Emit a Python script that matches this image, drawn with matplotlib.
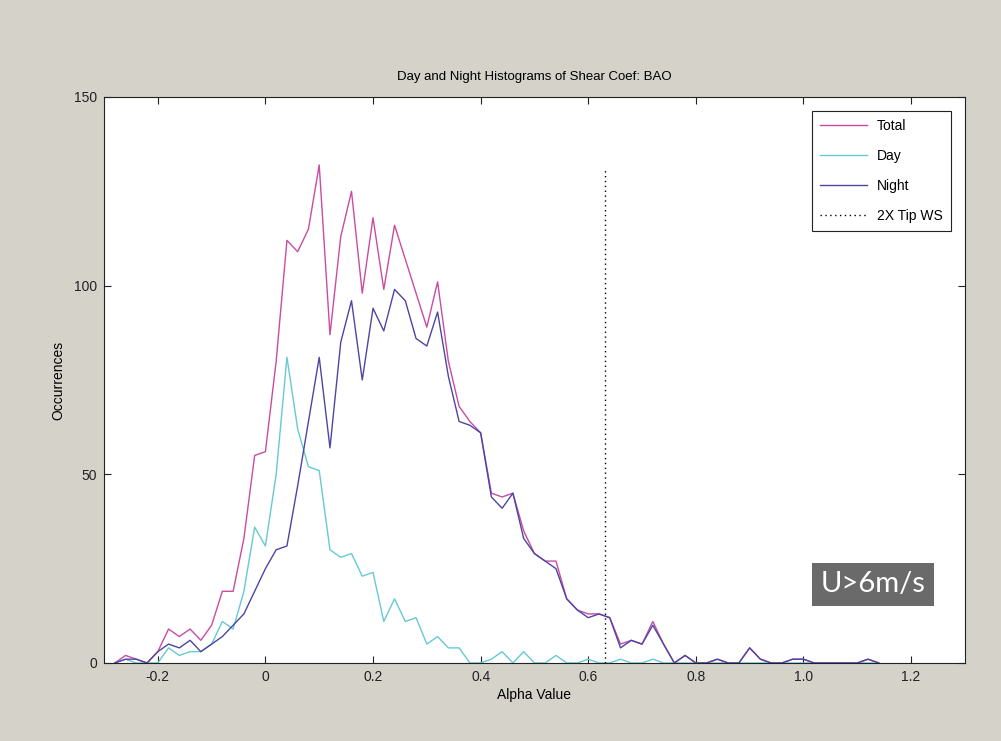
import numpy as np
import matplotlib
matplotlib.use("Agg")
import matplotlib.pyplot as plt

plt.rcParams['font.family'] = ['Liberation Sans', 'DejaVu Sans']

# bin centres (alpha value)
alpha = [-0.28, -0.26, -0.24, -0.22, -0.20, -0.18, -0.16, -0.14, -0.12, -0.10,
         -0.08, -0.06, -0.04, -0.02, 0.00, 0.02, 0.04, 0.06, 0.08, 0.10,
         0.12, 0.14, 0.16, 0.18, 0.20, 0.22, 0.24, 0.26, 0.28, 0.30,
         0.32, 0.34, 0.36, 0.38, 0.40, 0.42, 0.44, 0.46, 0.48, 0.50,
         0.52, 0.54, 0.56, 0.58, 0.60, 0.62, 0.64, 0.66, 0.68, 0.70,
         0.72, 0.74, 0.76, 0.78, 0.80, 0.82, 0.84, 0.86, 0.88, 0.90,
         0.92, 0.94, 0.96, 0.98, 1.00, 1.02, 1.04, 1.06, 1.08, 1.10,
         1.12, 1.14]

total = [0, 2, 1, 0, 3, 9, 7, 9, 6, 10,
         19, 19, 33, 55, 56, 80, 112, 109, 115, 132,
         87, 113, 125, 98, 118, 99, 116, 107, 98, 89,
         101, 80, 68, 64, 61, 45, 44, 45, 35, 29,
         27, 27, 17, 14, 13, 13, 12, 5, 6, 5,
         11, 5, 0, 2, 0, 0, 1, 0, 0, 4,
         1, 0, 0, 1, 1, 0, 0, 0, 0, 0,
         1, 0]

day = [0, 1, 0, 0, 0, 4, 2, 3, 3, 5,
       11, 9, 19, 36, 31, 50, 81, 62, 52, 51,
       30, 28, 29, 23, 24, 11, 17, 11, 12, 5,
       7, 4, 4, 0, 0, 1, 3, 0, 3, 0,
       0, 2, 0, 0, 1, 0, 0, 1, 0, 0,
       1, 0, 0, 0, 0, 0, 0, 0, 0, 0,
       0, 0, 0, 0, 0, 0, 0, 0, 0, 0,
       0, 0]

night = [0, 1, 1, 0, 3, 5, 4, 6, 3, 5,
         7, 10, 13, 19, 25, 30, 31, 47, 64, 81,
         57, 85, 96, 75, 94, 88, 99, 96, 86, 84,
         93, 76, 64, 63, 61, 44, 41, 45, 33, 29,
         27, 25, 17, 14, 12, 13, 12, 4, 6, 5,
         10, 5, 0, 2, 0, 0, 1, 0, 0, 4,
         1, 0, 0, 1, 1, 0, 0, 0, 0, 0,
         1, 0]

tip_ws = 0.631
tip_ws_height = 131

fig = plt.figure(figsize=(10.01, 7.41), dpi=100, facecolor='#d5d2ca')
ax = fig.add_axes([0.1039, 0.1053, 0.860, 0.7638])

ax.plot(alpha, total, color='#c94ca0', lw=1.0, label='Total')
ax.plot(alpha, day, color='#66c9d3', lw=1.0, label='Day')
ax.plot(alpha, night, color='#4d45a3', lw=1.0, label='Night')
ax.plot([tip_ws, tip_ws], [0, tip_ws_height], color='black', lw=1.0,
        linestyle=(0, (1, 2.5)), label='2X Tip WS')

ax.set_xlim(-0.3, 1.3)
ax.set_ylim(0, 150)
xt = [-0.2, 0, 0.2, 0.4, 0.6, 0.8, 1.0, 1.2]
ax.set_xticks(xt)
ax.set_xticklabels(['-0.2', '0', '0.2', '0.4', '0.6', '0.8', '1.0', '1.2'])
ax.set_yticks([0, 50, 100, 150])
ax.tick_params(direction='in', top=True, right=True, length=5,
               labelsize=10, pad=5, width=0.8, colors='#222222')
for s in ax.spines.values():
    s.set_linewidth(0.8)
    s.set_color('#222222')

ax.set_title('Day and Night Histograms of Shear Coef: BAO', fontsize=9.5, pad=12)
ax.set_xlabel('Alpha Value', fontsize=10, labelpad=3)
ax.set_ylabel('Occurrences', fontsize=10, labelpad=6)

leg = ax.legend(loc='upper right', fontsize=10, handlelength=3.4,
                borderaxespad=1.0, fancybox=False, framealpha=1,
                edgecolor='#222222', labelspacing=1.15, handletextpad=0.7,
                borderpad=0.6)
leg.get_frame().set_linewidth(0.8)

ax.text(0.8935, 0.139, 'U>6m/s', transform=ax.transAxes, ha='center', va='center',
        fontsize=21, color='white', family=['Lato', 'DejaVu Sans'],
        bbox=dict(boxstyle='square,pad=0.3', fc='#6a6a6a', ec='none'))

fig.savefig('out.png', dpi=100, facecolor=fig.get_facecolor())
